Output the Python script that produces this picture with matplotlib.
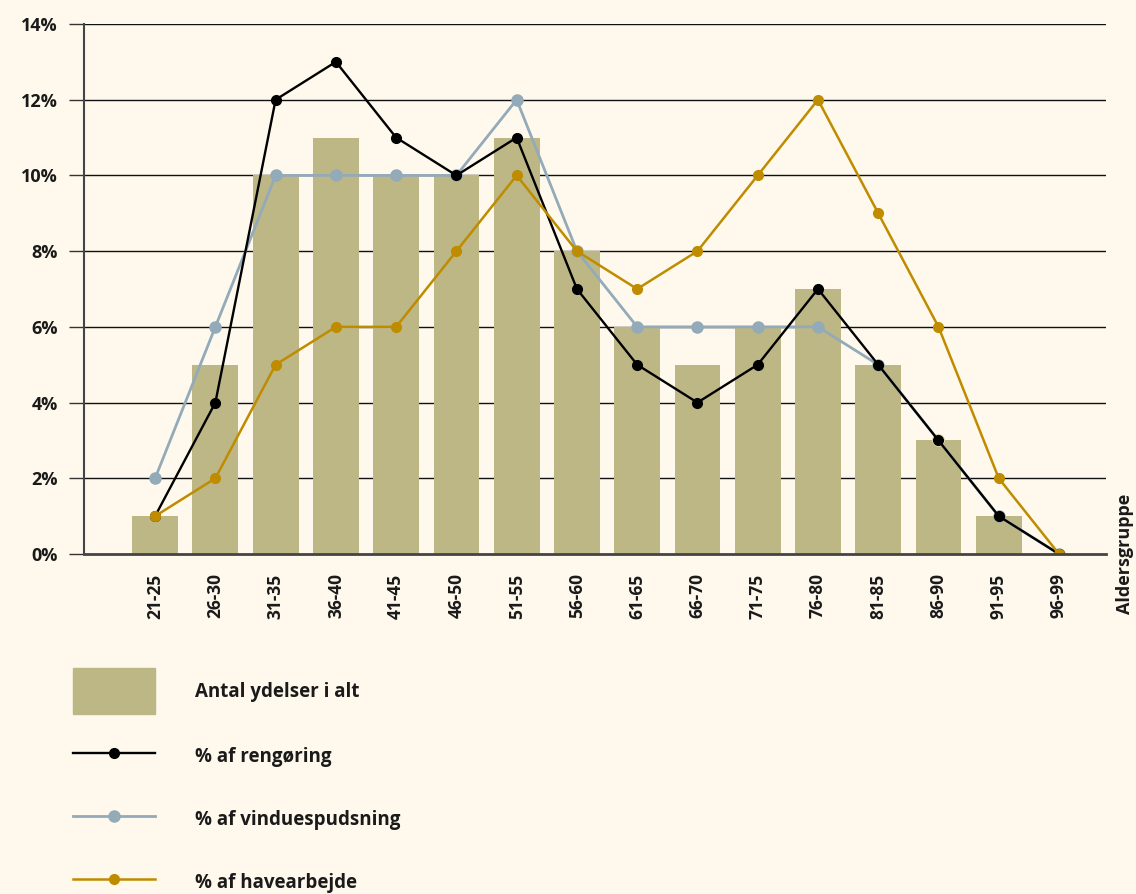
import matplotlib
matplotlib.use("Agg")
import matplotlib.pyplot as plt
from matplotlib.patches import Rectangle
from matplotlib.lines import Line2D
import numpy as np

categories = ["21-25", "26-30", "31-35", "36-40", "41-45", "46-50", "51-55", "56-60",
              "61-65", "66-70", "71-75", "76-80", "81-85", "86-90", "91-95", "96-99"]
antal_ydelser = [1, 5, 10, 11, 10, 10, 11, 8, 6, 5, 6, 7, 5, 3, 1, 0]
rengoering = [1, 4, 12, 13, 11, 10, 11, 7, 5, 4, 5, 7, 5, 3, 1, 0]
vinduespudsning = [2, 6, 10, 10, 10, 10, 12, 8, 6, 6, 6, 6, 5, 3, 1, 0]
havearbejde = [1, 2, 5, 6, 6, 8, 10, 8, 7, 8, 10, 12, 9, 6, 2, 0]
yticks = [0, 2, 4, 6, 8, 10, 12, 14]
legend_labels = ["Antal ydelser i alt", "% af rengøring", "% af vinduespudsning", "% af havearbejde"]

BG = "#fef9ec"
BAR = "#bdb786"
BLACK = "#000000"
BLUE = "#93aab9"
GOLD = "#bf8c00"

plt.rcParams['font.family'] = ['Open Sans', 'DejaVu Sans']

W, H = 1136, 894
fig = plt.figure(figsize=(W / 100, H / 100), dpi=100, facecolor=BG)

bg = fig.add_axes([0, 0, 1, 1], zorder=0)
bg.set_xlim(0, W)
bg.set_ylim(H, 0)
bg.axis("off")

ax = fig.add_axes([84 / W, 1 - 554 / H, (1106 - 84) / W, (554 - 24) / H], zorder=1)
ax.set_facecolor("none")

x = np.arange(len(categories))
ax.bar(x, antal_ydelser, width=0.76, color=BAR, zorder=2)

ax.plot(x, vinduespudsning, color=BLUE, lw=2, marker="o", ms=8, zorder=3)
ax.plot(x[13], vinduespudsning[13], color="#f3e7a2", marker="o", ms=8, lw=0, zorder=3.5)
ax.plot(x, rengoering, color=BLACK, lw=1.7, marker="o", ms=7, zorder=4)
ax.plot(x, havearbejde, color=GOLD, lw=1.8, marker="o", ms=7, zorder=5)

ax.set_xlim(-1.18, 15.78)
ax.set_ylim(0, 14)
ax.set_yticks(yticks)
ax.set_yticklabels([f"{v}%" for v in yticks], fontsize=13, fontweight="bold", color="#1a1a1a")
ax.set_xticks(x)
ax.set_xticklabels(categories, rotation=90, fontsize=12.5, fontweight="bold", color="#1a1a1a")
ax.tick_params(axis="x", length=0, pad=14)
ax.tick_params(axis="y", length=11, width=1, color="#333333", pad=8, direction="out")

for v in yticks[1:]:
    ax.axhline(v, color="#111111", lw=1, zorder=1)
for s in ["top", "right"]:
    ax.spines[s].set_visible(False)
ax.spines["left"].set_color("#444444")
ax.spines["left"].set_linewidth(1.5)
ax.spines["bottom"].set_color("#444444")
ax.spines["bottom"].set_linewidth(2)
ax.spines["left"].set_zorder(6)
ax.spines["bottom"].set_zorder(6)

fig.text(1125 / W, 1 - 554 / H, "Aldersgruppe", rotation=90, ha="center", va="center",
         fontsize=13, fontweight="bold", color="#1a1a1a")

bg.add_patch(Rectangle((73, 668), 82, 46, color=BAR))
bg.text(195, 692, legend_labels[0], fontsize=13.5, fontweight="bold", va="center", color="#1a1a1a")
for yy, col, ms, lw, lab in [(753, BLACK, 7, 1.7, legend_labels[1]),
                             (816, BLUE, 8, 2, legend_labels[2]),
                             (879, GOLD, 7, 1.8, legend_labels[3])]:
    bg.add_line(Line2D([73, 155], [yy, yy], color=col, lw=lw))
    bg.add_line(Line2D([114], [yy], color=col, marker="o", ms=ms))
    bg.text(195, yy + 4, lab, fontsize=13.5, fontweight="bold", va="center", color="#1a1a1a")

fig.savefig("out.png", dpi=100, facecolor=BG)
